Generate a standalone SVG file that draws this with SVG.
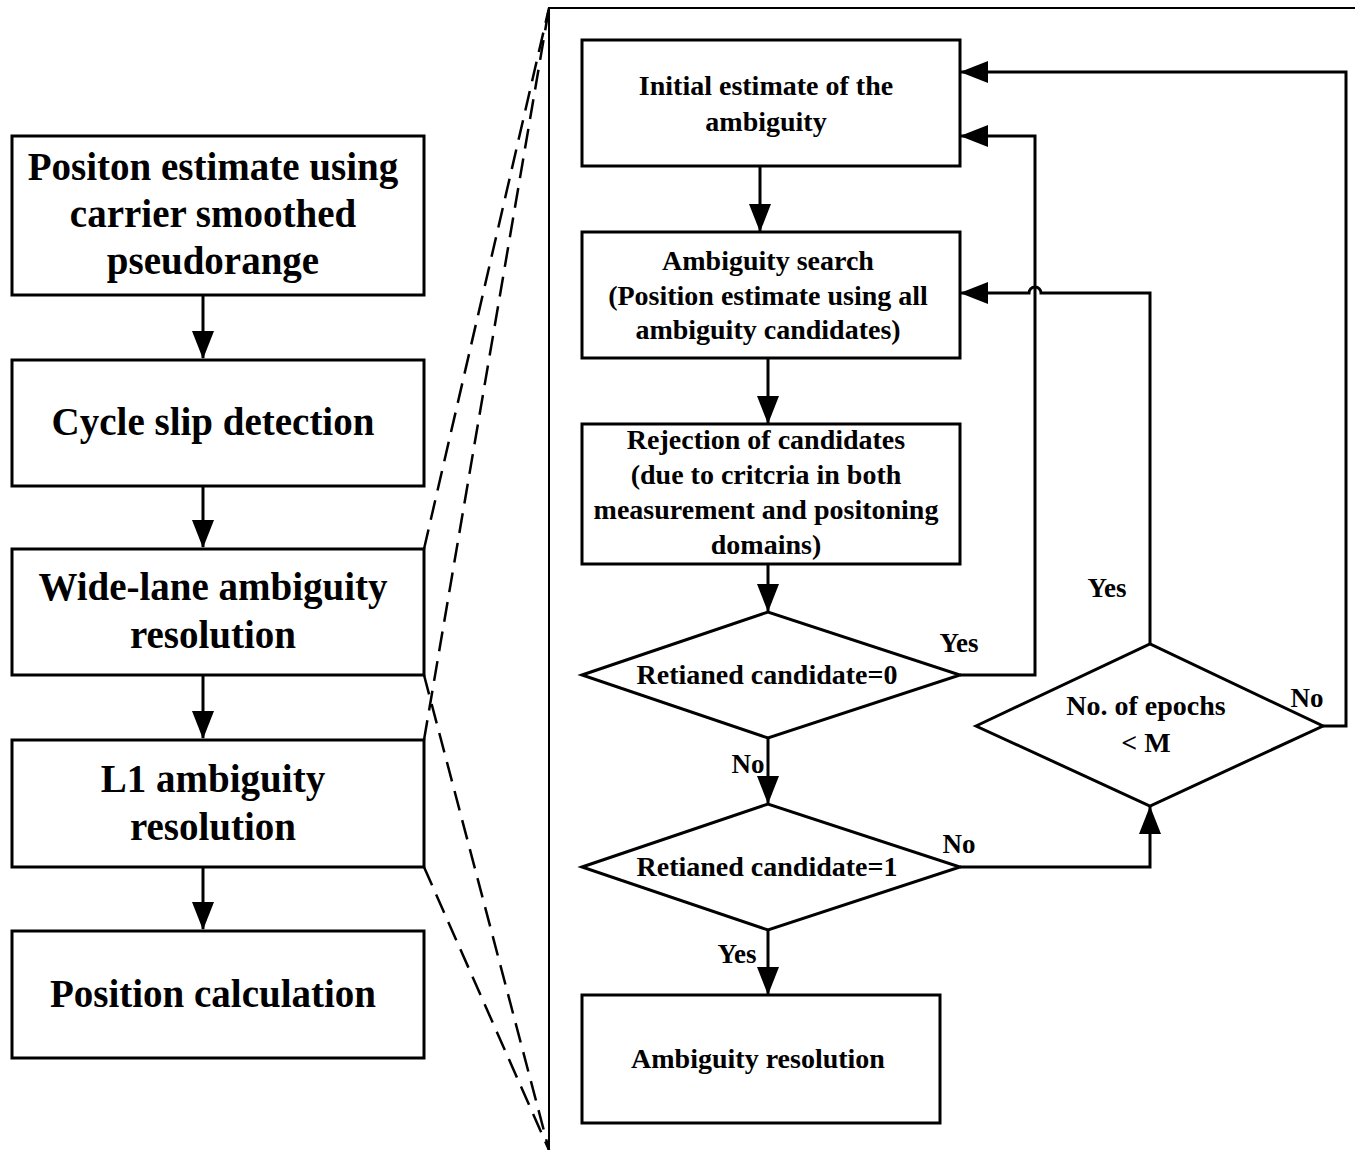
<svg xmlns="http://www.w3.org/2000/svg" width="1355" height="1150" viewBox="0 0 1355 1150">
<defs>
<marker id="ah" markerWidth="28" markerHeight="22" refX="27" refY="11" orient="auto" markerUnits="userSpaceOnUse">
<path d="M0,0 L28,11 L0,22 Z" fill="#000"/>
</marker>
<style>
.box{fill:#fff;stroke:#000;stroke-width:3}
.big{font-family:"Liberation Serif","Times New Roman",serif;font-weight:bold;font-size:39px;text-anchor:middle;fill:#000}
.sm{font-family:"Liberation Serif","Times New Roman",serif;font-weight:bold;font-size:28px;text-anchor:middle;fill:#000}
.lb{font-family:"Liberation Serif","Times New Roman",serif;font-weight:bold;font-size:27px;text-anchor:middle;fill:#000}
.ln{fill:none;stroke:#000;stroke-width:3}
.dash{fill:none;stroke:#000;stroke-width:2.5;stroke-dasharray:20,10}
.frame{fill:none;stroke:#000;stroke-width:2}
</style>
</defs>
<rect width="1355" height="1150" fill="#fff"/>

<g id="frame">
<path class="frame" d="M549,1150 L549,8 L1355,8"/>
</g>

<g id="zoom-lines">
<line class="dash" x1="424" y1="549" x2="549" y2="8"/>
<line class="dash" x1="424" y1="740" x2="549" y2="8"/>
<line class="dash" x1="424" y1="675" x2="549" y2="1150"/>
<line class="dash" x1="424" y1="867" x2="549" y2="1150"/>
</g>

<g id="connectors">
<line class="ln" x1="203" y1="295" x2="203" y2="358" marker-end="url(#ah)"/>
<line class="ln" x1="203" y1="486" x2="203" y2="547" marker-end="url(#ah)"/>
<line class="ln" x1="203" y1="675" x2="203" y2="738" marker-end="url(#ah)"/>
<line class="ln" x1="203" y1="867" x2="203" y2="929" marker-end="url(#ah)"/>

<line class="ln" x1="760" y1="166" x2="760" y2="231" marker-end="url(#ah)"/>
<line class="ln" x1="768" y1="358" x2="768" y2="423" marker-end="url(#ah)"/>
<line class="ln" x1="768" y1="564" x2="768" y2="611" marker-end="url(#ah)"/>
<line class="ln" x1="768" y1="738" x2="768" y2="803" marker-end="url(#ah)"/>
<line class="ln" x1="768" y1="930" x2="768" y2="994" marker-end="url(#ah)"/>
<path class="ln" d="M960,675 L1035,675 L1035,136 L961,136" marker-end="url(#ah)"/>
<path class="ln" d="M960,867 L1150,867 L1150,807" marker-end="url(#ah)"/>
<path class="ln" d="M1150,644 L1150,293 L1041,293 A6,6 0 0 0 1029,293 L961,293" marker-end="url(#ah)"/>
<path class="ln" d="M1323,726 L1346,726 L1346,72 L961,72" marker-end="url(#ah)"/>
<text class="lb" x="959" y="652">Yes</text>
<text class="lb" x="748" y="773">No</text>
<text class="lb" x="959" y="853">No</text>
<text class="lb" x="737" y="963">Yes</text>
<text class="lb" x="1107" y="597">Yes</text>
<text class="lb" x="1307" y="707">No</text>
</g>

<g id="n1">
<rect class="box" x="12" y="136" width="412" height="159"/>
<text class="big" x="213" y="180">Positon estimate using</text>
<text class="big" x="213" y="227">carrier smoothed</text>
<text class="big" x="213" y="274">pseudorange</text>
</g>
<g id="n2">
<rect class="box" x="12" y="360" width="412" height="126"/>
<text class="big" x="213" y="435">Cycle slip detection</text>
</g>
<g id="n3">
<rect class="box" x="12" y="549" width="412" height="126"/>
<text class="big" x="213" y="600">Wide-lane ambiguity</text>
<text class="big" x="213" y="648">resolution</text>
</g>
<g id="n4">
<rect class="box" x="12" y="740" width="412" height="127"/>
<text class="big" x="213" y="792">L1 ambiguity</text>
<text class="big" x="213" y="840">resolution</text>
</g>
<g id="n5">
<rect class="box" x="12" y="931" width="412" height="127"/>
<text class="big" x="213" y="1007">Position calculation</text>
</g>

<g id="r1">
<rect class="box" x="582" y="40" width="378" height="126"/>
<text class="sm" x="766" y="95">Initial estimate of the</text>
<text class="sm" x="766" y="131">ambiguity</text>
</g>
<g id="r2">
<rect class="box" x="582" y="232" width="378" height="126"/>
<text class="sm" x="768" y="270">Ambiguity search</text>
<text class="sm" x="768" y="305">(Position estimate using all</text>
<text class="sm" x="768" y="339">ambiguity candidates)</text>
</g>
<g id="r3">
<rect class="box" x="582" y="424" width="378" height="140"/>
<text class="sm" x="766" y="449">Rejection of candidates</text>
<text class="sm" x="766" y="484">(due to critcria in both</text>
<text class="sm" x="766" y="519">measurement and positoning</text>
<text class="sm" x="766" y="554">domains)</text>
</g>
<g id="d1">
<polygon class="box" points="582,675 768,612 960,675 768,738"/>
<text class="sm" x="767" y="684">Retianed candidate=0</text>
</g>
<g id="d2">
<polygon class="box" points="582,867 768,804 960,867 768,930"/>
<text class="sm" x="767" y="876">Retianed candidate=1</text>
</g>
<g id="d3">
<polygon class="box" points="976,726 1150,644 1323,726 1150,806"/>
<text class="sm" x="1146" y="715">No. of epochs</text>
<text class="sm" x="1146" y="752">&lt; M</text>
</g>
<g id="r4">
<rect class="box" x="582" y="995" width="358" height="128"/>
<text class="sm" x="758" y="1068">Ambiguity resolution</text>
</g>
</svg>
